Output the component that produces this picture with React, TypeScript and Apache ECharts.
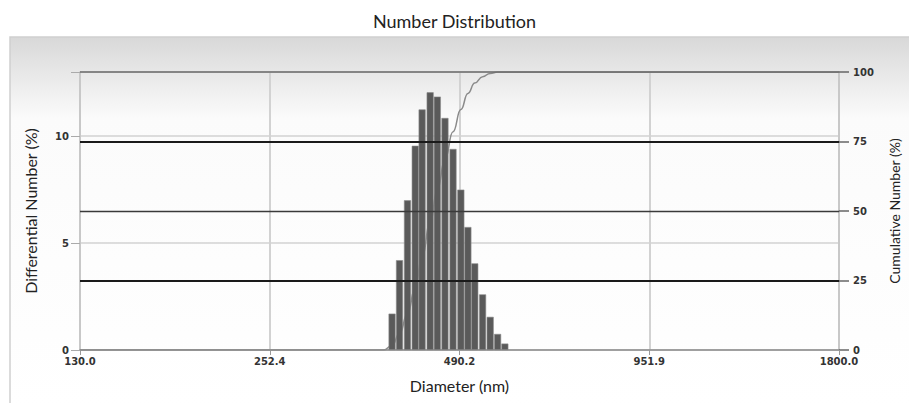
import React, { useEffect, useRef } from "react";
import * as echarts from "echarts";

const DIAM_MIN = 130;
const DIAM_MAX = 1800;
const xTickLabels = ["130.0", "252.4", "490.2", "951.9", "1800.0"];
const binDiameters = [383, 393, 404, 415, 425, 437, 448, 460, 473, 486, 498, 510, 524, 538, 552, 566];
const differential = [1.7, 4.2, 7.0, 9.55, 11.25, 12.05, 11.85, 10.85, 9.4, 7.5, 5.75, 4.05, 2.6, 1.55, 0.75, 0.3];
const cumDiameters = [130, 372, 383, 393, 404, 415, 425, 437, 448, 460, 473, 486, 498, 510, 524, 538, 552, 566, 1800];
const cumulative = [0, 0, 1.7, 5.9, 13.0, 22.5, 33.8, 45.8, 57.7, 68.5, 78.5, 86.5, 92.3, 96.0, 98.3, 99.5, 100, 100, 100];

const toPos = (d: number) => (Math.log(d / DIAM_MIN) / Math.log(DIAM_MAX / DIAM_MIN)) * 4;

export default function App() {
  const ref = useRef<HTMLDivElement>(null);
  useEffect(() => {
    if (!ref.current) return;
    const chart = echarts.init(ref.current, null, { renderer: "svg" });
    const labelFont = { fontFamily: "DejaVu Sans", fontSize: 10, color: "#333", fontWeight: "bold" as const };
    chart.setOption({
      animation: false,
      title: {
        text: "Number Distribution",
        left: "center",
        top: 7,
        textStyle: { fontFamily: "Lato", fontSize: 18, fontWeight: "normal", color: "#222" },
      },
      graphic: [
        {
          type: "rect",
          z: -10,
          shape: { x: 10, y: 37, width: 905, height: 370 },
          style: {
            fill: new echarts.graphic.LinearGradient(0, 0, 0, 1, [
              { offset: 0, color: "#d8d8d8" },
              { offset: 0.22, color: "#fbfbfb" },
              { offset: 1, color: "#ffffff" },
            ]),
            stroke: "#cfcfcf",
            lineWidth: 1.5,
          },
        },
      ],
      grid: { left: 80, right: 66, top: 72, bottom: 53 },
      xAxis: {
        type: "value",
        min: 0,
        max: 4,
        interval: 1,
        name: "Diameter (nm)",
        nameLocation: "middle",
        nameGap: 27,
        nameTextStyle: { fontFamily: "Lato", fontSize: 16, color: "#222" },
        axisLine: { lineStyle: { color: "#8a8a8a", width: 1.5 } },
        axisTick: { show: true, length: 5, lineStyle: { color: "#999" } },
        axisLabel: { ...labelFont, margin: 6, formatter: (v: number) => xTickLabels[Math.round(v)] ?? "" },
        splitLine: { show: true, lineStyle: { color: "#d2d2d2", width: 2 } },
      },
      yAxis: [
        {
          type: "value",
          min: 0,
          max: 13,
          interval: 5,
          name: "Differential Number (%)",
          nameLocation: "middle",
          nameGap: 42,
          nameTextStyle: { fontFamily: "Lato", fontSize: 16, color: "#222" },
          axisLine: { show: true, lineStyle: { color: "#c4c4c4", width: 1.5 } },
          axisTick: { show: true, length: 9, lineStyle: { color: "#aaa" } },
          axisLabel: { ...labelFont, margin: 11, formatter: (v: number) => (v === 13 ? "" : String(v)) },
          splitLine: { show: true, lineStyle: { color: "#d2d2d2", width: 1.5 } },
        },
        {
          type: "value",
          min: 0,
          max: 100,
          interval: 25,
          name: "Cumulative Number (%)",
          nameLocation: "middle",
          nameGap: 48,
          nameTextStyle: { fontFamily: "Lato", fontSize: 14, color: "#222" },
          axisLine: { show: true, lineStyle: { color: "#c4c4c4", width: 1.5 } },
          axisTick: { show: true, length: 10, lineStyle: { color: "#666", width: 1.5 } },
          axisLabel: { ...labelFont, margin: 14 },
          splitLine: { show: false },
        },
      ],
      series: [
        {
          type: "line",
          yAxisIndex: 1,
          z: 1,
          smooth: 0.5,
          smoothMonotone: "x",
          symbol: "none",
          lineStyle: { color: "#8a8a8a", width: 1.5 },
          data: cumDiameters.map((d, i) => [toPos(d), cumulative[i]]),
          markLine: {
            silent: true,
            symbol: "none",
            label: { show: false },
            data: [
              { yAxis: 25, lineStyle: { color: "#1a1a1a", width: 2, type: "solid" } },
              { yAxis: 50, lineStyle: { color: "#3a3a3a", width: 1.3, type: "solid" } },
              { yAxis: 75, lineStyle: { color: "#1a1a1a", width: 2, type: "solid" } },
              { yAxis: 100, lineStyle: { color: "#6a6a6a", width: 1.5, type: "solid" } },
            ],
          },
        },
        {
          type: "bar",
          z: 3,
          barWidth: 7,
          itemStyle: { color: "#5a5a5a", borderColor: "#8c8c8c", borderWidth: 0.6 },
          data: binDiameters.map((d, i) => [toPos(d), differential[i]]),
        },
      ],
    });
    return () => chart.dispose();
  }, []);
  return <div ref={ref} style={{ width: 909, height: 403, position: "absolute", left: 0, top: 0 }} />;
}
